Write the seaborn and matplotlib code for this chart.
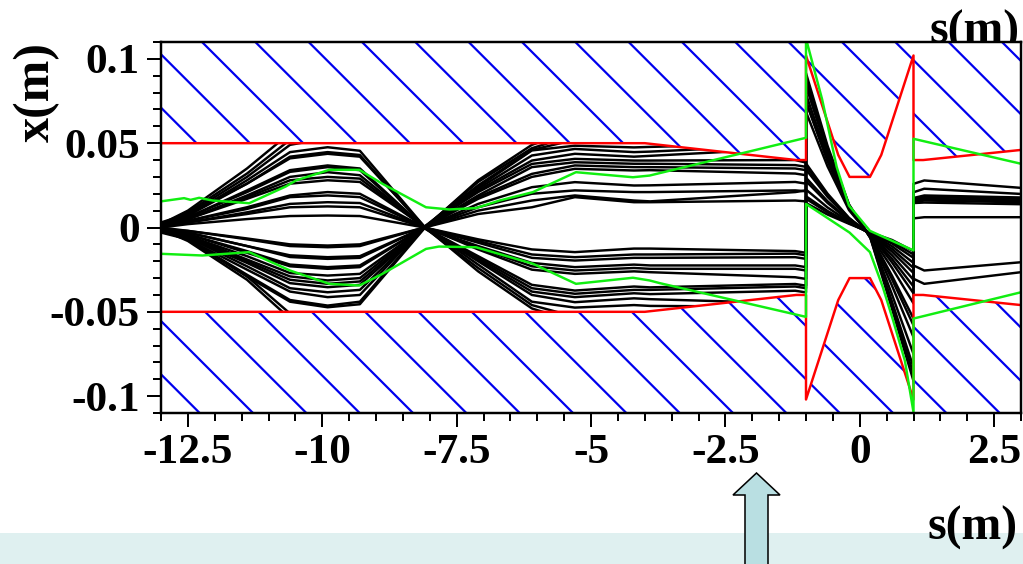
import numpy as np
import pandas as pd
import matplotlib
matplotlib.use("Agg")
import matplotlib.pyplot as plt
from matplotlib.patches import Rectangle, Polygon
from matplotlib.ticker import FixedLocator, MultipleLocator
import seaborn as sns

nan = np.nan

# ---------------------------------------------------------------------------
# s positions (m) of the optics boundaries in each section of the line
s_drift = [-13.0, -12.5, -11.4, -10.6, -9.9, -9.3, -8.1, -7.1, -6.1, -5.3, -4.2, -3.9, -1.2, -1.0]
s_magnet = [-1.0, -0.6, -0.2, 0.2, 0.6, 1.0]
s_exit = [1.0, 1.2, 3.0]

# vacuum chamber half aperture (m)
aperture_s = [-13.0, -4.0, -1.18, -1.0, -1.0, -0.40, -0.19, 0.19, 0.40, 1.0, 1.0, 1.18, 3.0]
aperture_x = [0.050, 0.050, 0.040, 0.040, 0.102, 0.043, 0.030, 0.030, 0.043, 0.102, 0.040, 0.040, 0.046]

# beam envelope (m)
env_upper_s = [-13.0, -12.57, -12.45, -12.29, -12.04, -11.36, -10.68, -10.49, -9.87, -9.31, -8.88,
               -8.07, -7.64, -7.14, -6.70, -6.08, -5.28, -4.22, -3.91, -1.0,
               -1.0, -0.7, -0.43, -0.2, 0.19, 1.0,
               1.0, 3.0]
env_upper_x = [0.0155, 0.0174, 0.0164, 0.0176, 0.0160, 0.0144, 0.0243, 0.0279, 0.0342, 0.0342, 0.0259,
               0.0120, 0.0107, 0.0115, 0.0160, 0.0210, 0.0328, 0.0298, 0.0308, 0.0532,
               0.112, 0.076, 0.036, 0.013, -0.002, -0.0136,
               0.0526, 0.0378]
env_lower_s = [-13.0, -12.23, -11.36, -10.6, -9.87, -9.31, -8.88, -8.07, -7.83, -7.14, -6.08,
               -5.28, -4.22, -3.91, -3.72, -1.0,
               -1.0, -0.19, 0.19, 0.43, 0.62, 0.84, 1.0,
               1.0, 3.0]
env_lower_x = [-0.0156, -0.0166, -0.0146, -0.0255, -0.0334, -0.0344, -0.0275, -0.0127, -0.0113, -0.0117, -0.0215,
               -0.0334, -0.0298, -0.0314, -0.0330, -0.0530,
               0.014, -0.003, -0.0146, -0.0354, -0.055, -0.079, -0.1095,
               -0.054, -0.0384]

# single-particle trajectories x(s) through the drift section (NaN once lost)
rays_drift = {
    "U1":  [0.002, 0.010, 0.035, 0.056, nan, nan, nan, nan, nan, nan, nan, nan, nan, nan],
    "U2":  [0.001, 0.009, 0.032, 0.052, nan, nan, nan, nan, nan, nan, nan, nan, nan, nan],
    "U3":  [0.000, 0.008, 0.030, 0.049, 0.053, nan, nan, nan, nan, nan, nan, nan, nan, nan],
    "U4":  [0.002, 0.007, 0.028, 0.0447, 0.0476, 0.0455, 0.0005, -0.026, -0.048, -0.056, nan, nan, nan, nan],
    "U5":  [0.001, 0.007, 0.026, 0.042, 0.0447, 0.043, 0.0000, -0.024, -0.046, -0.053, nan, nan, nan, nan],
    "U6":  [0.003, 0.008, 0.026, 0.041, 0.0437, 0.042, 0.0005, -0.022, -0.044, -0.0475, -0.046, -0.0465, -0.047, nan],
    "U7":  [0.001, 0.006, 0.022, 0.034, 0.0368, 0.035, 0.0000, -0.020, -0.040, -0.0443, -0.042, -0.0425, -0.045, nan],
    "U8":  [0.002, 0.006, 0.021, 0.033, 0.0358, 0.034, -0.0005, -0.019, -0.038, -0.0413, -0.039, -0.0395, -0.0375, -0.0385],
    "U9":  [0.000, 0.005, 0.019, 0.030, 0.0328, 0.031, 0.0000, -0.018, -0.036, -0.0393, -0.037, -0.037, -0.035, -0.036],
    "U10": [0.001, 0.005, 0.018, 0.028, 0.0300, 0.029, 0.0000, -0.017, -0.034, -0.0374, -0.035, -0.0355, -0.0335, -0.0345],
    "U11": [0.002, 0.005, 0.017, 0.026, 0.0280, 0.027, 0.0005, -0.013, -0.025, -0.0275, -0.026, -0.0265, -0.0295, -0.0305],
    "U12": [0.000, 0.004, 0.012, 0.019, 0.0210, 0.020, 0.0000, -0.012, -0.023, -0.0255, -0.024, -0.0245, -0.0245, -0.0255],
    "U13": [0.001, 0.004, 0.011, 0.018, 0.0190, 0.018, 0.0000, -0.011, -0.021, -0.0235, -0.022, -0.0225, -0.0225, -0.0235],
    "U14": [0.000, 0.003, 0.009, 0.014, 0.0150, 0.0145, 0.0000, -0.009, -0.018, -0.0196, -0.018, -0.018, -0.0176, -0.0186],
    "U15": [0.001, 0.003, 0.008, 0.012, 0.0125, 0.012, 0.0000, -0.008, -0.016, -0.0176, -0.016, -0.016, -0.0155, -0.0165],
    "U16": [0.000, 0.002, 0.005, 0.0068, 0.0071, 0.0068, 0.0000, -0.007, -0.013, -0.0146, -0.0125, -0.0125, -0.014, -0.015],
    "L1":  [-0.001, -0.008, -0.031, -0.054, nan, nan, nan, nan, nan, nan, nan, nan, nan, nan],
    "L2":  [-0.002, -0.007, -0.029, -0.051, nan, nan, nan, nan, nan, nan, nan, nan, nan, nan],
    "L3":  [-0.002, -0.007, -0.029, -0.044, -0.0473, -0.0455, -0.0005, 0.028, 0.049, 0.058, nan, nan, nan, nan],
    "L4":  [-0.001, -0.007, -0.028, -0.043, -0.0463, -0.044, 0.0000, 0.027, 0.047, 0.055, nan, nan, nan, nan],
    "L5":  [-0.003, -0.007, -0.025, -0.038, -0.0413, -0.040, 0.0005, 0.025, 0.046, 0.052, nan, nan, nan, nan],
    "L6":  [-0.001, -0.006, -0.023, -0.036, -0.0384, -0.037, 0.0000, 0.024, 0.0457, 0.0485, 0.0475, 0.0478, 0.050, nan],
    "L7":  [-0.002, -0.006, -0.021, -0.033, -0.0354, -0.034, 0.0000, 0.023, 0.0427, 0.0466, 0.0447, 0.045, 0.049, nan],
    "L8":  [-0.001, -0.005, -0.020, -0.031, -0.0334, -0.032, 0.0000, 0.022, 0.0397, 0.0437, 0.042, 0.0425, 0.047, nan],
    "L9":  [-0.002, -0.005, -0.019, -0.029, -0.0314, -0.030, 0.0005, 0.021, 0.0377, 0.0407, 0.0397, 0.0397, 0.0400, 0.0385],
    "L10": [-0.001, -0.005, -0.017, -0.027, -0.0285, -0.0275, 0.0000, 0.019, 0.0358, 0.0387, 0.0378, 0.0378, 0.0370, 0.0360],
    "L11": [-0.002, -0.004, -0.015, -0.023, -0.0245, -0.0235, 0.0000, 0.018, 0.0318, 0.0368, 0.0358, 0.0358, 0.0350, 0.0340],
    "L12": [-0.001, -0.004, -0.014, -0.022, -0.0235, -0.0225, 0.0000, 0.017, 0.0300, 0.0348, 0.0338, 0.0340, 0.0320, 0.0310],
    "L13": [-0.001, -0.003, -0.011, -0.0175, -0.0186, -0.018, 0.0000, 0.014, 0.0239, 0.0269, 0.0249, 0.0250, 0.0270, 0.0260],
    "L14": [-0.002, -0.003, -0.011, -0.0165, -0.0176, -0.017, 0.0000, 0.012, 0.0200, 0.0220, 0.0210, 0.0210, 0.0220, 0.0215],
    "L15": [-0.001, -0.002, -0.007, -0.011, -0.0117, -0.011, 0.0000, 0.010, 0.0160, 0.0190, 0.0160, 0.0155, 0.0210, 0.0220],
    "L16": [0.000, -0.002, -0.0065, -0.010, -0.0107, -0.010, 0.0000, 0.008, 0.0120, 0.0180, 0.0150, 0.0150, 0.0160, 0.0155],
}

# trajectories inside the septum magnet (shifted frame)
rays_magnet = {
    "U8":  [0.0145, 0.0077, 0.0022, -0.0030, -0.0074, -0.014],
    "U9":  [0.0170, 0.0090, 0.0026, -0.0032, -0.0085, -0.016],
    "U10": [0.0185, 0.0098, 0.0028, -0.0035, -0.0095, -0.018],
    "U11": [0.0225, 0.0119, 0.0034, -0.0036, -0.0111, -0.021],
    "U12": [0.0275, 0.0146, 0.0041, -0.0038, -0.0127, -0.024],
    "U13": [0.0295, 0.0156, 0.0044, -0.0040, -0.0143, -0.027],
    "U14": [0.0344, 0.0182, 0.0052, -0.0042, -0.0164, -0.031],
    "U15": [0.0365, 0.0193, 0.0055, -0.0043, -0.0186, -0.035],
    "U16": [0.0380, 0.0201, 0.0057, -0.0045, -0.0207, -0.039],
    "L16": [0.0685, 0.0363, 0.0103, -0.0050, -0.0239, -0.045],
    "L14": [0.0745, 0.0395, 0.0112, -0.0052, -0.0286, -0.054],
    "L15": [0.0750, 0.0398, 0.0113, -0.0054, -0.0307, -0.058],
    "L13": [0.0790, 0.0419, 0.0119, -0.0056, -0.0345, -0.065],
    "L12": [0.0840, 0.0445, 0.0126, -0.0058, -0.0398, -0.075],
    "L11": [0.0870, 0.0461, 0.0131, -0.0060, -0.0440, -0.083],
    "L10": [0.0890, 0.0472, 0.0134, -0.0062, -0.0461, -0.087],
    "L9":  [0.0915, 0.0485, 0.0137, -0.0064, -0.0482, -0.091],
}

# trajectories after the magnet
rays_exit = {
    "U8":  [0.0054, 0.0061, 0.0061],
    "U9":  [0.0145, 0.0148, 0.0138],
    "U10": [0.0150, 0.0160, 0.0150],
    "U11": [0.0160, 0.0170, 0.0160],
    "U12": [0.0165, 0.0180, 0.0170],
    "U13": [0.0175, 0.0190, 0.0178],
    "U14": [0.0209, 0.0230, 0.0199],
    "U15": [0.0259, 0.0279, 0.0235],
    "U16": [-0.0225, -0.0255, -0.0206],
    "L16": [-0.0304, -0.0334, -0.0265],
}

x_ticks = [-12.5, -10, -7.5, -5, -2.5, 0, 2.5]
x_tick_labels = ["-12.5", "-10", "-7.5", "-5", "-2.5", "0", "2.5"]
y_ticks = [-0.1, -0.05, 0, 0.05, 0.1]
y_tick_labels = ["-0.1", "-0.05", "0", "0.05", "0.1"]

# ---------------------------------------------------------------------------
sns.set_theme(style="ticks")
plt.rcParams["font.family"] = ["Liberation Serif", "DejaVu Serif"]
plt.rcParams["font.weight"] = "bold"
plt.rcParams["axes.unicode_minus"] = False
plt.rcParams["text.color"] = "black"
plt.rcParams["xtick.color"] = "black"
plt.rcParams["ytick.color"] = "black"
plt.rcParams["xtick.labelcolor"] = "black"
plt.rcParams["ytick.labelcolor"] = "black"
plt.rcParams["hatch.color"] = "blue"
plt.rcParams["hatch.linewidth"] = 1.0

DPI = 160
fig = plt.figure(figsize=(1023 / DPI, 564 / DPI), dpi=DPI, facecolor="white")

# long table of all trajectory points
rows = []
for name, xs in rays_drift.items():
    pts = list(zip(s_drift, xs))
    if name in rays_magnet:
        pts += list(zip(s_magnet, rays_magnet[name]))
    if name in rays_exit:
        pts += list(zip(s_exit, rays_exit[name]))
    for k, (s, x) in enumerate(pts):
        rows.append((name, k, s, x))
rays = pd.DataFrame(rows, columns=["ray", "step", "s", "x"]).dropna()

ax = fig.add_axes([161 / 1023, (564 - 413) / 564, 860 / 1023, 371 / 564], zorder=0)
ax.set_facecolor("white")

sns.lineplot(data=rays, x="s", y="x", units="ray", estimator=None, sort=False,
             color="black", linewidth=1.1, legend=False, zorder=2, ax=ax)

ap_s = np.array(aperture_s)
ap_x = np.array(aperture_x)
ax.fill_between(ap_s, ap_x, 0.3, facecolor="white", edgecolor="#0000ee",
                hatch="\\", linewidth=0, zorder=3)
ax.fill_between(ap_s, -0.3, -ap_x, facecolor="white", edgecolor="#0000ee",
                hatch="\\", linewidth=0, zorder=3)

sns.lineplot(x=ap_s, y=ap_x, sort=False, estimator=None, color="#ff0000",
             linewidth=1.1, zorder=4, ax=ax)
sns.lineplot(x=ap_s, y=-ap_x, sort=False, estimator=None, color="#ff0000",
             linewidth=1.1, zorder=4, ax=ax)

sns.lineplot(x=env_upper_s, y=env_upper_x, sort=False, estimator=None,
             color="#11ee11", linewidth=1.1, zorder=5, ax=ax)
sns.lineplot(x=env_lower_s, y=env_lower_x, sort=False, estimator=None,
             color="#11ee11", linewidth=1.1, zorder=5, ax=ax)

ax.set_xlim(-13, 3)
ax.set_ylim(-0.11, 0.11)
ax.set_xlabel("")
ax.set_ylabel("")
ax.xaxis.set_major_locator(FixedLocator(x_ticks))
ax.set_xticklabels(x_tick_labels)
ax.xaxis.set_minor_locator(MultipleLocator(0.5))
ax.yaxis.set_major_locator(FixedLocator(y_ticks))
ax.set_yticklabels(y_tick_labels)
ax.yaxis.set_minor_locator(MultipleLocator(0.01))
ax.tick_params(which="both", direction="out", width=0.9, color="black",
               labelcolor="black", top=False, right=False)
ax.tick_params(which="major", length=6.5, labelsize=19.5, pad=3.0)
ax.tick_params(which="minor", length=3.6)
for lab in ax.get_xticklabels() + ax.get_yticklabels():
    lab.set_fontweight("bold")
for sp in ax.spines.values():
    sp.set_visible(True)
    sp.set_linewidth(1.1)
    sp.set_color("black")
    sp.set_zorder(6)

# page decorations in pixel coordinates, drawn underneath the plot frame
ov = fig.add_axes([0, 0, 1, 1], zorder=-1)
ov.set_xlim(0, 1023)
ov.set_ylim(564, 0)
ov.axis("off")
ov.patch.set_visible(False)
ov.add_patch(Rectangle((0, 533), 1023, 40, facecolor="#dff0f0", edgecolor="none", zorder=1))
ov.add_patch(Polygon([(745, 570), (745, 495), (733, 495), (756.5, 473), (780, 495),
                      (768, 495), (768, 570)], closed=True, facecolor="#b9dfe2",
                     edgecolor="black", linewidth=0.7, zorder=2))
ov.text(37, 92, "x(m)", rotation=90, ha="center", va="center", fontsize=22.5,
        fontweight="bold", color="black")
ov.text(1020, 44, "s(m)", ha="right", va="baseline", fontsize=21.5,
        fontweight="bold", color="black")
ov.text(1018, 540, "s(m)", ha="right", va="baseline", fontsize=21.5,
        fontweight="bold", color="black", zorder=3)

fig.savefig("out.png", dpi=DPI, facecolor="white")
